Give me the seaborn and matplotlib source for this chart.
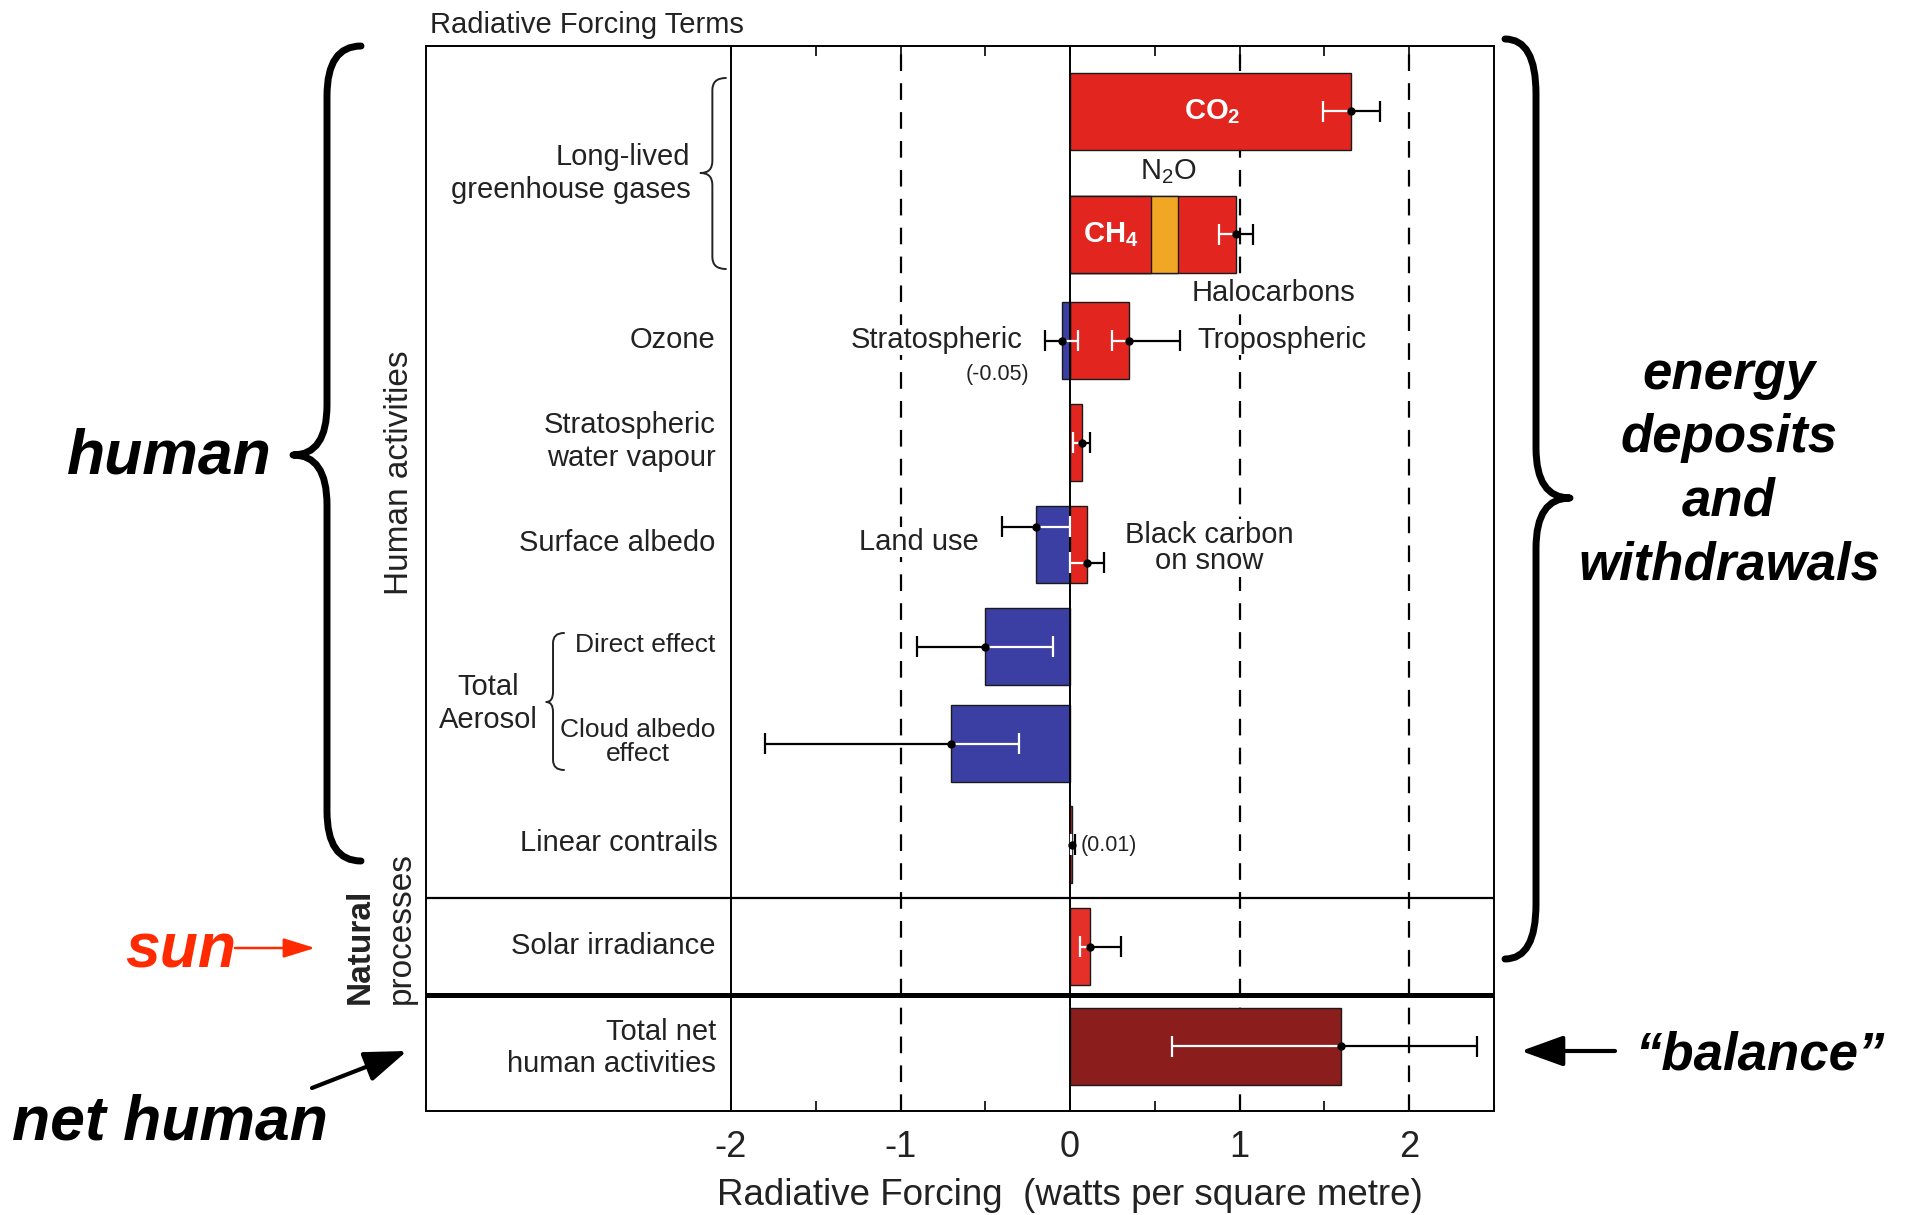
import numpy as np
import pandas as pd
import matplotlib
matplotlib.use("Agg")
import matplotlib.pyplot as plt
from matplotlib.path import Path
from matplotlib.patches import PathPatch, FancyArrowPatch
from matplotlib.transforms import Affine2D
import seaborn as sns

# ---------------------------------------------------------------- data
# Radiative forcing terms (W m-2), one entry per bar segment
TERMS = ["CO2", "CH4", "N2O", "Halocarbons", "Stratospheric ozone",
         "Tropospheric ozone", "Stratospheric water vapour", "Land use",
         "Black carbon on snow", "Direct effect", "Cloud albedo effect",
         "Linear contrails", "Solar irradiance", "Total net human activities"]
TERM_ROW = [0, 1, 1, 1, 2, 2, 3, 4, 4, 5, 6, 7, 8, 9]
FORCING = [1.66, 0.48, 0.16, 0.34, -0.05, 0.35, 0.07, -0.20, 0.10,
           -0.50, -0.70, 0.01, 0.12, 1.60]
TERM_KIND = ["warm", "warm", "n2o", "warm", "cool", "warm", "warm", "cool",
             "warm", "cool", "cool", "warm", "solar", "net"]

# Uncertainty ranges (W m-2)
ERR_ROW = [0, 1, 2, 2, 3, 4, 4, 5, 6, 7, 8, 9]
ERR_BEST = [1.66, 0.98, -0.05, 0.35, 0.07, -0.20, 0.10, -0.50, -0.70, 0.01, 0.12, 1.60]
ERR_LOW = [1.49, 0.88, -0.15, 0.25, 0.02, -0.40, 0.00, -0.90, -1.80, 0.003, 0.06, 0.60]
ERR_HIGH = [1.83, 1.08, 0.05, 0.65, 0.12, 0.00, 0.20, -0.10, -0.30, 0.03, 0.30, 2.40]

ROW_LABELS = ["Long-lived\ngreenhouse gases", "Ozone", "Stratospheric\nwater vapour",
              "Surface albedo", "Direct effect", "Cloud albedo\neffect",
              "Total\nAerosol", "Linear contrails", "Solar irradiance",
              "Total net\nhuman activities"]
X_TICKS = [-2, -1, 0, 1, 2]
X_TICK_LABELS = ["-2", "-1", "0", "1", "2"]

# ---------------------------------------------------------------- layout / style
W, H = 1916, 1215
ROW_Y = [0.655, 1.885, 2.95, 3.97, 4.99, 6.01, 6.98, 7.99, 9.01, 10.005]
BAR_H = 0.77
ERR_DY = [0, 0, 0, 0, 0, -0.18, 0.18, 0, 0, 0, 0, 0]
CAP = 0.105
COLORS = {"warm": "#E2261F", "n2o": "#F2A724", "cool": "#3B3FA3",
          "solar": "#E5302A", "net": "#8C1D1D"}
INK = "#222222"
LABEL_FS = 21

sns.set_style("white")
plt.rcParams.update({
    "font.family": ["Liberation Sans", "DejaVu Sans"],
    "axes.unicode_minus": False,
    "mathtext.fontset": "custom",
    "mathtext.rm": "Liberation Sans",
    "mathtext.bf": "Liberation Sans:bold",
    "mathtext.it": "Liberation Sans:italic",
})

fig = plt.figure(figsize=(W / 100, H / 100), dpi=100)
fig.patch.set_facecolor("white")
ax = fig.add_axes([0.22229, 0.08519, 0.55733, 0.87695])
# pixel coordinates measured from the top-left corner of the figure
TL = Affine2D().scale(1 / W, -1 / H).translate(0, 1) + fig.transFigure

# ---------------------------------------------------------------- bars
df = pd.DataFrame({"term": TERMS, "row": TERM_ROW, "forcing": FORCING,
                   "kind": TERM_KIND})
df["pos"] = [ROW_Y[r] for r in df["row"]]
df["sign"] = np.sign(df["forcing"])
df["end"] = df.groupby(["row", "sign"])["forcing"].cumsum()
# longest pieces first so that shorter stacked pieces sit on top of them
order = df.loc[df["end"].abs().sort_values(ascending=False).index]

for _, b in order.iterrows():
    sns.barplot(data=pd.DataFrame({"forcing": [b["end"]], "pos": [b["pos"]]}),
                x="forcing", y="pos", orient="y", native_scale=True,
                width=BAR_H, color=COLORS[b["kind"]], saturation=1,
                edgecolor="#1a1a1a", linewidth=1.0, errorbar=None,
                ax=ax, zorder=2)

# ---------------------------------------------------------------- uncertainty bars
span = df.groupby("row")["end"].agg(["min", "max"])
for i, r in enumerate(ERR_ROW):
    y = ROW_Y[r] + ERR_DY[i]
    lo, hi, best = ERR_LOW[i], ERR_HIGH[i], ERR_BEST[i]
    bmin, bmax = min(0.0, span.loc[r, "min"]), max(0.0, span.loc[r, "max"])
    ilo, ihi = max(lo, bmin), min(hi, bmax)
    if ihi > ilo:
        ax.hlines(y, ilo, ihi, color="white", lw=1.6, zorder=4)
    if lo < bmin:
        ax.hlines(y, lo, min(hi, bmin), color="black", lw=1.6, zorder=4)
    if hi > bmax:
        ax.hlines(y, max(lo, bmax), hi, color="black", lw=1.6, zorder=4)
    for xc in (lo, hi):
        inside = bmin - 1e-9 <= xc <= bmax + 1e-9
        ax.vlines(xc, y - CAP, y + CAP, color="white" if inside else "black",
                  lw=1.6, zorder=4)
    ax.plot(best, y, "o", color="black", ms=5, zorder=5)

# ---------------------------------------------------------------- axes frame
ax.set_xlim(-3.8, 2.5)
ax.set_ylim(10.655, 0)
ax.set_yticks([])
ax.set_ylabel("")
ax.set_xticks(X_TICKS)
ax.set_xticklabels(X_TICK_LABELS)
ax.set_xticks([-1.5, -0.5, 0.5, 1.5], minor=True)
ax.tick_params(axis="x", which="both", direction="in", top=True, bottom=True,
               length=7, width=1.2, color="black", labelsize=26,
               labelcolor=INK, pad=13)
for s in ax.spines.values():
    s.set_color("black")
    s.set_linewidth(1.4)
    s.set_visible(True)

ax.set_xlabel("Radiative Forcing  (watts per square metre)", fontsize=26.5,
              color=INK)
ax.xaxis.set_label_coords((0 + 3.8) / 6.3, -0.062)

ax.axvline(-2, color="black", lw=1.4, zorder=2.5)
ax.axvline(0, color="black", lw=1.4, zorder=2.5)
for xv in (-1, 1, 2):
    ax.axvline(xv, color="black", lw=1.6, ls=(0, (7.5, 5.5)), zorder=1)
ax.axhline(8.52, color="black", lw=1.6, zorder=3)
ax.axhline(9.49, color="black", lw=3.6, zorder=3)

# ---------------------------------------------------------------- row labels
label_spec = [  # (x, y, size, ha, linespacing)
    (-2.24, 1.275, LABEL_FS, "right", 1.2),
    (-2.09, 2.94, LABEL_FS, "right", 1.2),
    (-2.09, 3.957, LABEL_FS, "right", 1.2),
    (-2.09, 4.97, LABEL_FS, "right", 1.2),
    (-2.09, 5.99, 19, "right", 1.2),
    (-2.09, 6.965, 19, "right", 1.0),
    (-3.43, 6.575, LABEL_FS, "center", 1.2),
    (-2.08, 7.97, LABEL_FS, "right", 1.2),
    (-2.09, 9.00, LABEL_FS, "right", 1.2),
    (-2.09, 10.02, LABEL_FS, "right", 1.2),
]
for text, (x, y, fs, ha, lsp) in zip(ROW_LABELS, label_spec):
    ax.text(x, y, text, fontsize=fs, ha=ha, va="center", color=INK,
            multialignment="center" if text.startswith(("Cloud", "Total\n")) else ha,
            linespacing=lsp, zorder=5)


def brace(x_end, x_line, x_tip, y_top, y_tip, y_bot, r_end, r_tip, transform, **kw):
    s = np.sign(y_bot - y_top)
    verts = [(x_end, y_top), (x_line, y_top), (x_line, y_top + s * r_end),
             (x_line, y_tip - s * r_tip), (x_line, y_tip), (x_tip, y_tip),
             (x_line, y_tip), (x_line, y_tip + s * r_tip),
             (x_line, y_bot - s * r_end), (x_line, y_bot), (x_end, y_bot)]
    codes = [Path.MOVETO, Path.CURVE3, Path.CURVE3, Path.LINETO,
             Path.CURVE3, Path.CURVE3, Path.CURVE3, Path.CURVE3,
             Path.LINETO, Path.CURVE3, Path.CURVE3]
    patch = PathPatch(Path(verts, codes), transform=transform, fill=False,
                      capstyle="round", joinstyle="round", clip_on=False, **kw)
    return patch


ax.add_patch(brace(-2.03, -2.11, -2.18, 0.32, 1.27, 2.23, 0.12, 0.12,
                   ax.transData, lw=1.4, edgecolor=INK))
ax.add_patch(brace(-2.985, -3.05, -3.09, 5.87, 6.56, 7.24, 0.1, 0.1,
                   ax.transData, lw=1.4, edgecolor=INK))

# ---------------------------------------------------------------- in-plot annotations
box = dict(facecolor="white", edgecolor="none", pad=1.0)
ax.text(0.84, 0.655, r"CO$_\mathbf{2}$", color="white", fontsize=21,
        fontweight="bold", ha="center", va="center", zorder=5)
ax.text(0.24, 1.885, r"CH$_\mathbf{4}$", color="white", fontsize=21,
        fontweight="bold", ha="center", va="center", zorder=5)
ax.text(0.58, 1.26, r"N$_2$O", color=INK, fontsize=21, ha="center",
        va="center", zorder=5)
ax.text(1.20, 2.47, "Halocarbons", color=INK, fontsize=21, ha="center",
        va="center", bbox=box, zorder=3)
ax.text(-0.28, 2.94, "Stratospheric", color=INK, fontsize=21, ha="right",
        va="center", bbox=box, zorder=3)
ax.text(-0.43, 3.29, "(-0.05)", color=INK, fontsize=15.5, ha="center",
        va="center", zorder=3)
ax.text(0.75, 2.94, "Tropospheric", color=INK, fontsize=21, ha="left",
        va="center", bbox=box, zorder=3)
ax.text(-0.54, 4.96, "Land use", color=INK, fontsize=21, ha="right",
        va="center", bbox=box, zorder=3)
ax.text(0.82, 5.02, "Black carbon\non snow", color=INK, fontsize=21,
        ha="center", va="center", linespacing=0.95, bbox=box, zorder=3)
ax.text(0.06, 8.0, "(0.01)", color=INK, fontsize=15.5, ha="left",
        va="center", zorder=3)

# ---------------------------------------------------------------- surrounding text
fig.text(430, 33, "Radiative Forcing Terms", transform=TL, fontsize=21,
         color=INK, ha="left", va="baseline")
fig.text(399.5, 473, "Human activities", transform=TL, fontsize=24,
         color=INK, rotation=90, ha="center", va="center")
fig.text(360.5, 1004, "Natural", transform=TL, fontsize=24, color=INK,
         fontweight="bold", rotation=90, ha="center", va="bottom")
fig.text(401, 1004, "processes", transform=TL, fontsize=24, color=INK,
         rotation=90, ha="center", va="bottom")

big = dict(transform=TL, fontweight="bold", fontstyle="italic")
fig.text(67, 474, "human", fontsize=45, color="black", ha="left",
         va="baseline", **big)
fig.text(125, 968, "sun", fontsize=45, color="#FF2A00", ha="left",
         va="baseline", **big)
fig.text(12, 1140, "net human", fontsize=45, color="black", ha="left",
         va="baseline", **big)
for line, yb in zip(["energy", "deposits", "and", "withdrawals"],
                    [389, 452, 516, 579]):
    fig.text(1729, yb, line, fontsize=38, color="black", ha="center",
             va="baseline", **big)
fig.text(1635, 1070, "\u201cbalance\u201d", fontsize=38, color="black",
         ha="left", va="baseline", **big)

fig.add_artist(brace(361, 327, 293, 46, 455, 861, 50, 50, TL,
                     lw=5, edgecolor="black"))
fig.add_artist(brace(1505, 1536, 1570, 39, 498, 959, 55, 50, TL,
                     lw=5, edgecolor="black"))

for (p0, p1, col, lw, hl, hw) in [((235, 948), (315, 948), "#FF2A00", 1.8, 0.97, 0.30),
                                  ((312, 1088), (407, 1051), "black", 3.0, 1.3, 0.47),
                                  ((1615, 1051), (1521, 1051), "black", 3.0, 1.3, 0.47)]:
    fig.add_artist(FancyArrowPatch(
        p0, p1, transform=TL, color=col, lw=lw, mutation_scale=20,
        arrowstyle=f"-|>,head_length={hl},head_width={hw}",
        shrinkA=0, shrinkB=0))

fig.savefig("out.png", dpi=100, facecolor="white")
